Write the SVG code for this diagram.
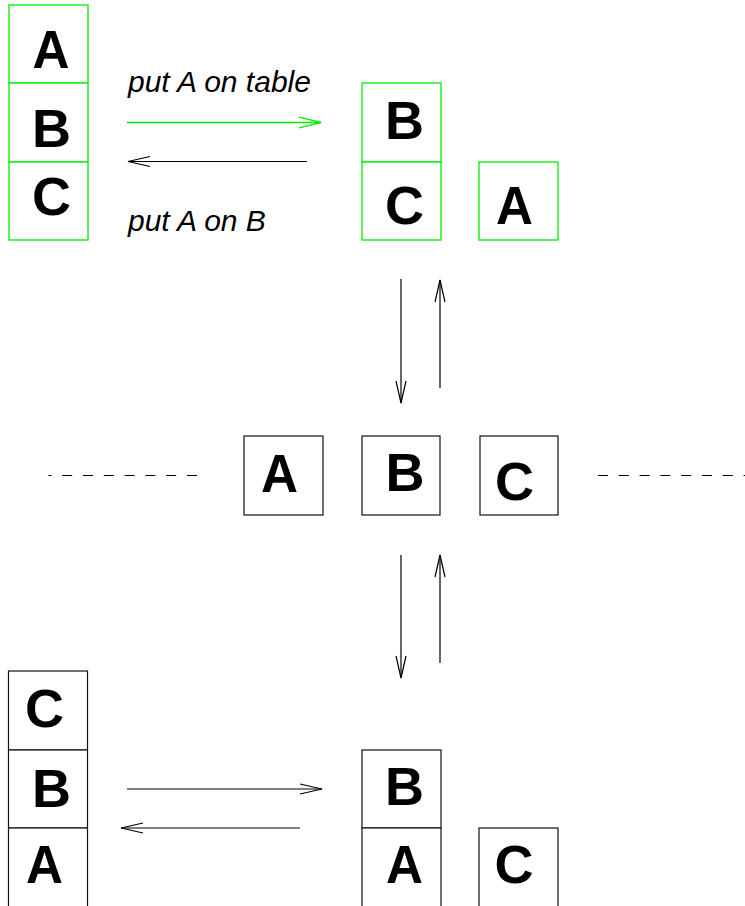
<svg xmlns="http://www.w3.org/2000/svg" width="745" height="906" viewBox="0 0 745 906">
  <style>
    .g { fill: #ffffff; stroke: #00ee00; stroke-width: 1.3; }
    .k { fill: #ffffff; stroke: #111111; stroke-width: 1.2; }
    .lt { font-family: "Liberation Sans", Arial, sans-serif; font-weight: bold; font-size: 54px; text-anchor: middle; fill: #000000; }
    .lab { font-family: "Liberation Sans", Arial, sans-serif; font-style: italic; font-size: 30px; fill: #000000; }
    .ca { fill: none; stroke: #000000; stroke-width: 1.2; marker-end: url(#ahk); }
    .cg { fill: none; stroke: #00ee00; stroke-width: 1.3; marker-end: url(#ahg); }
    .dash { fill: none; stroke: #000000; stroke-width: 1; stroke-dasharray: 10 10.8; }
  </style>
  <defs>
    <marker id="ahk" markerUnits="userSpaceOnUse" markerWidth="26" markerHeight="14" viewBox="-24 -7 26 14" refX="0" refY="0" orient="auto" overflow="visible">
      <path d="M-22,-5 L0,0 L-22,5" fill="none" stroke="#000000" stroke-width="1.2"/>
    </marker>
    <marker id="ahg" markerUnits="userSpaceOnUse" markerWidth="26" markerHeight="14" viewBox="-24 -7 26 14" refX="0" refY="0" orient="auto" overflow="visible">
      <path d="M-22,-5.3 L0,0 L-22,5.3" fill="none" stroke="#00ee00" stroke-width="1.3"/>
    </marker>
  </defs>
  <rect width="745" height="906" fill="#ffffff"/>

  <g id="state-ABC-tower">
    <rect class="g" x="9" y="5" width="79" height="78"/>
    <rect class="g" x="9" y="83" width="79" height="79"/>
    <rect class="g" x="9" y="162" width="79" height="78"/>
    <text class="lt" x="51" y="68" textLength="37" lengthAdjust="spacingAndGlyphs">A</text>
    <text class="lt" x="51.5" y="147">B</text>
    <text class="lt" x="51.5" y="215">C</text>
  </g>

  <g id="state-BC-A">
    <rect class="g" x="362" y="83" width="79" height="79"/>
    <rect class="g" x="362" y="162" width="79" height="78"/>
    <rect class="g" x="479" y="162" width="79" height="78"/>
    <text class="lt" x="404.5" y="139">B</text>
    <text class="lt" x="404.5" y="224">C</text>
    <text class="lt" x="514.5" y="224" textLength="37" lengthAdjust="spacingAndGlyphs">A</text>
  </g>

  <g id="state-A-B-C">
    <rect class="k" x="244" y="436" width="79" height="79"/>
    <rect class="k" x="362" y="436" width="78" height="79"/>
    <rect class="k" x="480" y="436" width="78" height="79"/>
    <text class="lt" x="279.5" y="492" textLength="37" lengthAdjust="spacingAndGlyphs">A</text>
    <text class="lt" x="405" y="491">B</text>
    <text class="lt" x="514.5" y="500">C</text>
  </g>

  <g id="state-CBA-tower">
    <rect class="k" x="8.5" y="671" width="79" height="79"/>
    <rect class="k" x="8.5" y="750" width="79" height="78"/>
    <rect class="k" x="8.5" y="828" width="79" height="82"/>
    <text class="lt" x="44.5" y="727">C</text>
    <text class="lt" x="51.5" y="807">B</text>
    <text class="lt" x="44.5" y="883" textLength="37" lengthAdjust="spacingAndGlyphs">A</text>
  </g>

  <g id="state-BA-C">
    <rect class="k" x="362" y="750" width="79" height="78"/>
    <rect class="k" x="362" y="828" width="79" height="82"/>
    <rect class="k" x="479" y="828" width="79" height="82"/>
    <text class="lt" x="404.5" y="805">B</text>
    <text class="lt" x="404.5" y="883" textLength="37" lengthAdjust="spacingAndGlyphs">A</text>
    <text class="lt" x="514" y="883">C</text>
  </g>

  <g id="connectors">
    <line class="cg" x1="127" y1="122.5" x2="321" y2="122.5"/>
    <line class="ca" x1="307" y1="161.5" x2="128" y2="161.5"/>
    <line class="ca" x1="401" y1="279" x2="401" y2="403"/>
    <line class="ca" x1="440" y1="388" x2="440" y2="280"/>
    <line class="ca" x1="401" y1="555" x2="401" y2="678"/>
    <line class="ca" x1="440" y1="663" x2="440" y2="555"/>
    <line class="ca" x1="127" y1="789" x2="322" y2="789"/>
    <line class="ca" x1="300" y1="828" x2="121" y2="828"/>
    <path class="dash" d="M197,475.5 L48.5,475.5"/>
    <path class="dash" d="M598,475.5 L745,475.5"/>
  </g>

  <g id="labels">
    <text class="lab" x="128" y="92">put A on table</text>
    <text class="lab" x="128" y="231">put A on B</text>
  </g>
</svg>
